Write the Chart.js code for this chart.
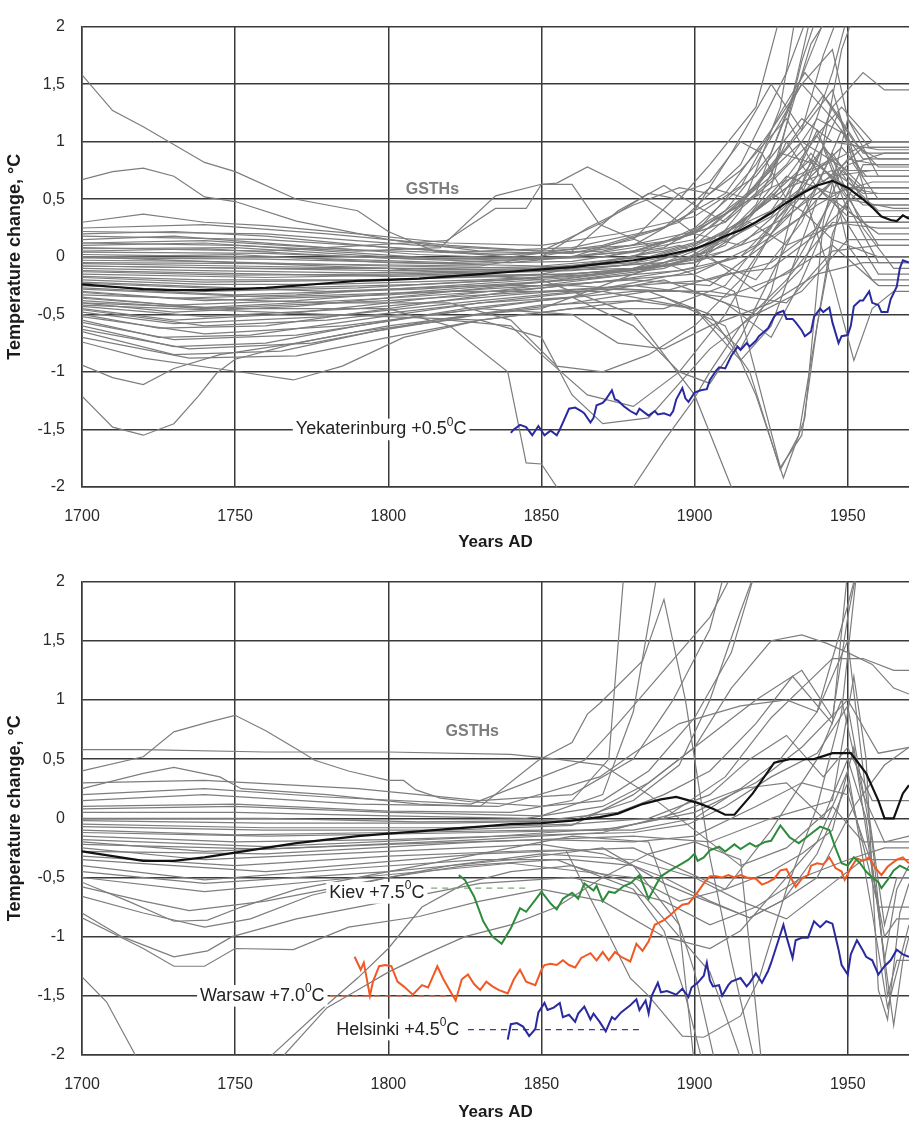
<!DOCTYPE html>
<html>
<head>
<meta charset="utf-8">
<script src="https://cdn.jsdelivr.net/npm/chart.js@4.4.1/dist/chart.umd.min.js"></script>
<style>
  body { margin: 0; background: #fff; }
  #wrap { position: relative; width: 909px; height: 1125px; overflow: hidden; background: #fff; }
  canvas { position: absolute; left: 0; }
</style>
</head>
<body>
<div id="wrap">
  <canvas id="chartTop" width="909" height="555" style="top:0"></canvas>
  <canvas id="chartBottom" width="909" height="570" style="top:555px"></canvas>
</div>
<script>
// ---- data ----

// top panel: mean of the GSTHs (black)
var topMeanYears = [1700,1710,1720,1730,1740,1750,1760,1770,1780,1790,1800,1810,1820,1830,1840,1850,1860,1870,1880,1890,1900,1905,1910,1915,1920,1925,1930,1935,1940,1945,1950,1955,1958,1961,1964,1966,1968,1970];
var topMeanTemps = [-0.24,-0.26,-0.28,-0.29,-0.29,-0.28,-0.27,-0.25,-0.23,-0.21,-0.2,-0.19,-0.17,-0.15,-0.13,-0.11,-0.09,-0.06,-0.03,0.01,0.07,0.12,0.18,0.23,0.3,0.38,0.47,0.55,0.62,0.66,0.6,0.5,0.43,0.35,0.32,0.31,0.36,0.33];

// Yekaterinburg (+0.5 C shifted)
var yekYears = [1840,1841,1843,1845,1847,1849,1851,1853,1855,1856,1857,1859,1861,1863,1864,1866,1867,1868,1870,1871,1873,1874,1875,1877,1879,1881,1882,1884,1885,1887,1888,1890,1892,1893,1894,1896,1897,1898,1900,1902,1904,1905,1907,1908,1910,1912,1914,1915,1917,1918,1920,1921,1924,1926,1927,1929,1930,1932,1933,1935,1936,1938,1939,1941,1942,1944,1945,1947,1948,1950,1951,1952,1954,1955,1957,1958,1960,1961,1963,1964,1966,1967,1968,1970];
var yekTemps = [-1.53,-1.5,-1.46,-1.48,-1.55,-1.47,-1.55,-1.51,-1.55,-1.5,-1.44,-1.32,-1.31,-1.34,-1.36,-1.44,-1.4,-1.29,-1.27,-1.24,-1.16,-1.24,-1.25,-1.3,-1.34,-1.37,-1.32,-1.36,-1.38,-1.34,-1.37,-1.36,-1.38,-1.34,-1.24,-1.14,-1.23,-1.26,-1.18,-1.16,-1.15,-1.07,-0.99,-0.96,-0.97,-0.86,-0.78,-0.81,-0.75,-0.78,-0.73,-0.69,-0.62,-0.52,-0.49,-0.47,-0.54,-0.54,-0.57,-0.64,-0.69,-0.65,-0.52,-0.45,-0.48,-0.44,-0.57,-0.75,-0.69,-0.68,-0.6,-0.43,-0.38,-0.38,-0.3,-0.4,-0.42,-0.48,-0.48,-0.37,-0.26,-0.1,-0.03,-0.05];

// top panel GSTHs, each one a list of [year, change]
var topGsth = [
  [[1700,1.58],[1710,1.27],[1720,1.13],[1740,0.82],[1750,0.74],[1770,0.5],[1790,0.4],[1800,0.22],[1815,0.05],[1840,0.0],[1870,0.1],[1895,0.3],[1915,0.8],[1930,1.6],[1937,2.1]],
  [[1700,0.67],[1710,0.74],[1720,0.77],[1730,0.7],[1740,0.52],[1750,0.48],[1770,0.31],[1800,0.15],[1830,0.05],[1860,0.08],[1890,0.25],[1910,0.55],[1925,1.1],[1935,1.5],[1945,1.2],[1955,0.85],[1970,0.85]],
  [[1700,0.3],[1720,0.37],[1740,0.3],[1760,0.27],[1790,0.2],[1820,0.12],[1850,0.1],[1875,0.2],[1900,0.35],[1920,0.7],[1935,1.2],[1945,1.0],[1960,0.93],[1970,0.93]],
  [[1700,0.2],[1730,0.22],[1760,0.18],[1800,0.08],[1835,0.02],[1865,0.05],[1895,0.15],[1915,0.45],[1930,0.95],[1942,1.4],[1952,1.0],[1960,0.78],[1970,0.78]],
  [[1700,0.15],[1730,0.18],[1770,0.1],[1810,0.02],[1850,-0.02],[1880,0.05],[1905,0.25],[1925,0.7],[1938,1.85],[1944,2.1]],
  [[1700,0.1],[1740,0.12],[1780,0.05],[1820,-0.02],[1860,0.0],[1890,0.12],[1910,0.3],[1928,0.9],[1940,0.8],[1950,0.6],[1960,0.55],[1970,0.55]],
  [[1700,0.05],[1740,0.07],[1790,0.0],[1840,-0.05],[1880,0.05],[1900,0.2],[1915,0.1],[1930,0.45],[1945,1.6],[1950,2.1]],
  [[1700,0.0],[1750,0.02],[1800,-0.05],[1850,-0.08],[1885,0.0],[1905,0.15],[1925,0.4],[1938,0.9],[1950,0.5],[1965,0.42],[1970,0.42]],
  [[1700,-0.03],[1740,-0.04],[1800,-0.08],[1850,-0.1],[1880,-0.05],[1900,0.1],[1920,0.55],[1932,1.4],[1938,2.1]],
  [[1700,-0.06],[1750,-0.08],[1800,-0.1],[1845,-0.12],[1875,-0.08],[1895,0.02],[1915,0.3],[1935,0.7],[1950,0.9],[1958,1.0],[1970,1.0]],
  [[1700,-0.1],[1740,-0.12],[1790,-0.14],[1840,-0.12],[1870,-0.05],[1895,0.1],[1920,-0.2],[1935,0.3],[1948,1.1],[1955,0.7],[1970,0.7]],
  [[1700,-0.13],[1750,-0.16],[1800,-0.15],[1850,-0.12],[1880,-0.1],[1900,0.0],[1925,0.35],[1942,0.95],[1950,0.4],[1960,0.2],[1970,0.2]],
  [[1700,-0.17],[1740,-0.2],[1790,-0.2],[1840,-0.17],[1880,-0.12],[1905,0.05],[1920,0.45],[1930,1.0],[1940,0.6],[1955,0.3],[1970,0.3]],
  [[1700,-0.2],[1740,-0.24],[1780,-0.24],[1830,-0.2],[1870,-0.15],[1900,-0.05],[1925,0.2],[1940,0.7],[1948,1.8],[1952,2.1]],
  [[1700,-0.25],[1740,-0.3],[1790,-0.27],[1840,-0.2],[1880,-0.1],[1910,0.15],[1925,0.55],[1935,0.4],[1945,0.15],[1960,0.0],[1970,0.0]],
  [[1700,-0.3],[1730,-0.36],[1770,-0.33],[1820,-0.25],[1860,-0.18],[1895,-0.05],[1915,0.25],[1930,0.7],[1945,0.55],[1958,0.65],[1970,0.65]],
  [[1700,-0.35],[1730,-0.42],[1770,-0.38],[1820,-0.28],[1860,-0.2],[1890,-0.1],[1910,0.1],[1925,0.6],[1935,1.7],[1940,2.1]],
  [[1700,-0.4],[1730,-0.48],[1770,-0.43],[1810,-0.33],[1850,-0.22],[1885,-0.1],[1905,0.0],[1920,-0.3],[1932,-0.1],[1945,0.5],[1960,-0.15],[1970,-0.15]],
  [[1700,-0.45],[1730,-0.55],[1765,-0.5],[1800,-0.4],[1840,-0.28],[1880,-0.15],[1900,0.0],[1918,0.3],[1930,0.1],[1945,0.9],[1955,0.5],[1970,0.5]],
  [[1700,-0.5],[1725,-0.62],[1760,-0.6],[1800,-0.45],[1840,-0.3],[1875,-0.2],[1900,-0.1],[1915,0.4],[1928,1.3],[1933,2.1]],
  [[1700,-0.55],[1725,-0.7],[1755,-0.68],[1790,-0.55],[1830,-0.4],[1865,-0.3],[1895,-0.15],[1915,0.0],[1935,0.35],[1950,0.8],[1962,0.9],[1970,0.9]],
  [[1700,-0.6],[1730,-0.78],[1760,-0.75],[1790,-0.6],[1825,-0.45],[1860,-0.35],[1890,-0.2],[1910,-0.4],[1925,-0.7],[1935,-0.2],[1948,0.6],[1960,0.1],[1970,0.1]],
  [[1700,-0.65],[1730,-0.85],[1765,-0.82],[1795,-0.65],[1830,-0.5],[1860,-0.4],[1885,-0.3],[1905,-0.5],[1918,-1.0],[1928,-1.85],[1934,-1.55],[1945,0.2],[1955,0.8],[1970,0.8]],
  [[1700,-0.74],[1720,-0.88],[1749,-0.99],[1769,-1.07],[1785,-0.95],[1805,-0.7],[1830,-0.55],[1860,-0.45],[1890,-0.35],[1910,-0.6],[1920,-1.2],[1929,-1.92],[1936,-1.4],[1942,0.3],[1950,1.2],[1960,0.7],[1970,0.7]],
  [[1700,-0.94],[1710,-1.05],[1720,-1.11],[1730,-0.97],[1745,-0.85],[1770,-0.75],[1800,-0.6],[1830,-0.5],[1850,-0.45],[1865,-0.3],[1880,-0.15],[1900,0.05],[1920,0.4],[1938,0.85],[1955,0.45],[1970,0.45]],
  [[1700,-1.21],[1710,-1.48],[1720,-1.55],[1730,-1.45],[1738,-1.21],[1744,-1.01],[1750,-0.89],[1770,-0.75],[1790,-0.65],[1820,-0.55],[1840,-0.6],[1850,-0.85],[1865,-1.2],[1880,-1.3],[1895,-1.0],[1910,-0.5],[1925,0.2],[1940,0.6],[1950,0.35],[1970,0.35]],
  [[1700,0.12],[1750,0.1],[1790,0.05],[1817,0.08],[1835,0.53],[1850,0.63],[1855,0.64],[1865,0.78],[1875,0.65],[1890,0.4],[1900,0.2],[1915,0.5],[1935,1.0],[1950,0.75],[1970,0.75]],
  [[1700,0.08],[1760,0.05],[1819,0.14],[1835,0.42],[1845,0.42],[1850,0.63],[1860,0.63],[1869,0.28],[1885,0.1],[1900,0.2],[1920,0.8],[1935,1.5],[1945,1.8],[1950,1.2],[1957,0.95],[1970,0.95]],
  [[1700,-0.4],[1750,-0.45],[1800,-0.45],[1820,-0.6],[1839,-1.0],[1845,-1.79],[1850,-1.8],[1855,-2.0],[1858,-2.3]],
  [[1830,-3.5],[1880,-2.0],[1890,-1.6],[1899,-1.27],[1905,-1.0],[1915,-0.6],[1930,-0.2],[1945,0.3],[1960,0.25],[1970,0.25]],
  [[1700,0.0],[1800,-0.1],[1850,-0.2],[1880,-0.5],[1900,-1.2],[1912,-2.0],[1920,-2.8]],
  [[1700,-0.08],[1800,-0.12],[1860,-0.1],[1890,-0.05],[1913,-0.3],[1928,-1.83],[1935,-1.55],[1940,-0.6],[1947,0.4],[1955,0.6],[1970,0.6]],
  [[1700,0.22],[1760,0.2],[1810,0.1],[1850,0.05],[1880,0.1],[1900,0.4],[1912,0.9],[1925,1.5],[1935,1.1],[1942,1.75],[1947,2.1]],
  [[1700,0.02],[1760,0.0],[1820,-0.05],[1860,0.0],[1890,0.25],[1905,0.6],[1918,0.5],[1930,0.8],[1940,1.2],[1950,1.05],[1957,0.45],[1970,0.45]],
  [[1700,-0.22],[1780,-0.3],[1830,-0.25],[1860,-0.25],[1890,-0.3],[1910,-0.15],[1925,-0.1],[1940,0.2],[1950,0.45],[1960,-0.05],[1970,-0.05]],
  [[1700,-0.28],[1760,-0.35],[1820,-0.3],[1870,-0.3],[1900,-0.45],[1915,-0.8],[1925,-0.3],[1933,0.5],[1945,1.3],[1955,1.6],[1962,1.45],[1970,1.45]],
  [[1700,0.18],[1760,0.15],[1820,0.05],[1860,0.03],[1880,0.15],[1895,0.55],[1905,0.65],[1915,1.0],[1922,0.9],[1930,0.5],[1945,0.7],[1958,0.75],[1970,0.75]],
  [[1700,-0.46],[1740,-0.6],[1780,-0.55],[1830,-0.4],[1860,-0.35],[1880,-0.6],[1895,-1.0],[1905,-1.1],[1915,-0.7],[1930,0.1],[1948,0.3],[1970,0.3]],
  [[1700,-0.52],[1740,-0.67],[1785,-0.6],[1830,-0.45],[1860,-0.5],[1875,-0.75],[1890,-0.8],[1905,-0.6],[1925,-0.4],[1940,-0.15],[1955,-0.05],[1970,-0.05]],
  [[1700,0.12],[1740,0.14],[1790,0.06],[1840,0.02],[1870,0.05],[1900,0.22],[1925,0.6],[1945,0.85],[1955,0.25],[1965,-0.1],[1970,-0.1]],
  [[1700,-0.38],[1740,-0.45],[1800,-0.38],[1850,-0.3],[1880,-0.25],[1910,-0.35],[1930,-0.15],[1945,0.1],[1960,-0.25],[1970,-0.25]],
  [[1700,-0.12],[1800,-0.17],[1860,-0.15],[1900,-0.05],[1920,0.3],[1935,0.6],[1945,-0.2],[1952,-0.9],[1958,-0.45],[1965,-0.3],[1970,-0.3]],
  [[1700,-0.33],[1780,-0.4],[1820,-0.4],[1840,-0.55],[1855,-0.95],[1870,-1.0],[1885,-0.85],[1900,-0.6],[1915,-0.2],[1930,0.4],[1942,0.95],[1955,0.6],[1970,0.6]],
  [[1700,-0.42],[1780,-0.5],[1830,-0.55],[1850,-0.7],[1860,-1.2],[1870,-1.45],[1885,-1.4],[1895,-1.1],[1905,-0.8],[1920,-0.5],[1935,-0.3],[1950,0.15],[1970,0.15]],
  [[1700,0.25],[1740,0.28],[1780,0.2],[1820,0.1],[1850,0.05],[1870,0.3],[1885,0.55],[1895,0.5],[1905,0.8],[1920,1.3],[1928,2.1]],
  [[1700,0.07],[1750,0.08],[1800,0.0],[1840,-0.03],[1870,0.0],[1900,0.15],[1920,0.6],[1935,1.1],[1945,1.45],[1950,1.0],[1960,0.85],[1970,0.85]],
  [[1700,-0.01],[1760,-0.02],[1820,-0.06],[1860,-0.04],[1890,0.08],[1910,0.4],[1925,0.9],[1940,1.9],[1943,2.1]],
  [[1700,-0.08],[1760,-0.1],[1820,-0.1],[1860,-0.08],[1890,0.05],[1910,0.2],[1930,0.6],[1945,0.75],[1955,0.55],[1970,0.55]],
  [[1700,-0.15],[1760,-0.18],[1820,-0.15],[1860,-0.12],[1885,-0.05],[1905,0.1],[1925,0.5],[1940,1.05],[1950,0.65],[1960,0.4],[1970,0.4]],
  [[1700,-0.18],[1740,-0.22],[1800,-0.2],[1850,-0.15],[1880,0.0],[1900,0.25],[1915,0.6],[1928,1.25],[1936,1.6],[1945,1.3],[1955,0.9],[1970,0.9]],
  [[1700,-0.23],[1750,-0.28],[1810,-0.24],[1860,-0.17],[1890,-0.08],[1910,0.05],[1930,0.35],[1945,0.65],[1950,0.1],[1958,-0.2],[1970,-0.2]],
  [[1700,-0.27],[1750,-0.33],[1810,-0.28],[1860,-0.2],[1895,-0.12],[1915,0.0],[1935,0.55],[1947,1.25],[1952,0.8],[1960,0.5],[1970,0.5]],
  [[1700,-0.31],[1740,-0.38],[1800,-0.33],[1850,-0.25],[1880,-0.2],[1905,-0.25],[1925,0.15],[1940,0.45],[1950,0.6],[1970,0.6]],
  [[1700,-0.36],[1740,-0.44],[1800,-0.36],[1850,-0.27],[1875,-0.2],[1900,-0.15],[1920,0.1],[1938,0.7],[1948,0.95],[1956,0.7],[1970,0.7]],
  [[1700,-0.43],[1740,-0.52],[1790,-0.45],[1840,-0.33],[1880,-0.25],[1905,-0.2],[1925,-0.05],[1940,0.25],[1950,0.3],[1970,0.3]],
  [[1700,-0.48],[1730,-0.58],[1780,-0.52],[1830,-0.38],[1870,-0.28],[1900,-0.3],[1920,-0.5],[1935,-0.1],[1948,0.75],[1956,0.55],[1970,0.55]],
  [[1700,-0.57],[1730,-0.72],[1770,-0.68],[1810,-0.52],[1850,-0.38],[1880,-0.3],[1905,-0.3],[1930,-0.4],[1945,0.05],[1960,0.1],[1970,0.1]],
  [[1700,-0.63],[1735,-0.8],[1775,-0.75],[1815,-0.55],[1850,-0.42],[1880,-0.38],[1900,-0.45],[1915,-0.9],[1925,-0.6],[1940,0.5],[1950,0.85],[1960,0.8],[1970,0.8]],
  [[1700,-0.7],[1735,-0.88],[1770,-0.86],[1800,-0.7],[1830,-0.55],[1860,-0.45],[1890,-0.45],[1910,-0.25],[1925,0.25],[1940,1.1],[1948,0.6],[1970,0.6]],
  [[1700,0.04],[1760,0.03],[1810,-0.02],[1850,0.0],[1865,0.25],[1880,0.45],[1895,0.6],[1905,0.55],[1915,0.75],[1930,1.2],[1942,0.65],[1955,0.95],[1970,0.95]],
  [[1700,-0.05],[1760,-0.06],[1830,-0.08],[1860,0.05],[1875,0.4],[1890,0.62],[1900,0.45],[1910,0.3],[1925,0.65],[1938,1.0],[1948,1.3],[1958,1.0],[1970,1.0]]
];

// bottom panel: mean of the GSTHs (black)
var botMeanYears = [1700,1710,1720,1730,1740,1750,1760,1770,1780,1790,1800,1810,1820,1830,1840,1850,1860,1869,1875,1883,1889,1894,1901,1906,1910,1913,1919,1926,1931,1939,1945,1951,1956,1960,1962,1965,1968,1970];
var botMeanTemps = [-0.28,-0.32,-0.36,-0.36,-0.33,-0.29,-0.25,-0.21,-0.18,-0.15,-0.13,-0.11,-0.09,-0.07,-0.05,-0.04,-0.02,0.01,0.04,0.12,0.16,0.18,0.13,0.08,0.03,0.03,0.21,0.47,0.5,0.5,0.55,0.55,0.38,0.15,0.0,0.0,0.21,0.28];

// Kiev (+7.5 C shifted)
var kievYears = [1823,1825,1828,1831,1834,1837,1840,1843,1845,1848,1850,1853,1855,1857,1860,1862,1864,1867,1868,1870,1872,1874,1877,1879,1882,1885,1887,1889,1892,1894,1896,1898,1900,1901,1903,1905,1908,1910,1913,1915,1918,1920,1923,1925,1928,1931,1934,1936,1938,1941,1944,1946,1948,1950,1952,1954,1956,1958,1960,1961,1963,1965,1967,1970];
var kievTemps = [-0.48,-0.52,-0.66,-0.87,-1.0,-1.06,-0.93,-0.76,-0.79,-0.69,-0.62,-0.72,-0.77,-0.68,-0.63,-0.68,-0.55,-0.61,-0.57,-0.7,-0.62,-0.63,-0.57,-0.55,-0.48,-0.68,-0.58,-0.49,-0.44,-0.41,-0.38,-0.35,-0.3,-0.36,-0.33,-0.27,-0.24,-0.28,-0.22,-0.26,-0.21,-0.24,-0.2,-0.19,-0.06,-0.16,-0.21,-0.17,-0.13,-0.07,-0.1,-0.25,-0.38,-0.4,-0.33,-0.38,-0.45,-0.5,-0.54,-0.59,-0.52,-0.44,-0.4,-0.44];

// Warsaw (+7.0 C shifted)
var warsawYears = [1789,1791,1792,1794,1795,1797,1799,1801,1803,1805,1808,1811,1813,1816,1818,1820,1822,1824,1826,1828,1830,1832,1834,1836,1839,1841,1843,1845,1848,1850,1851,1853,1855,1857,1859,1861,1863,1866,1868,1870,1872,1874,1876,1879,1881,1883,1885,1887,1890,1892,1894,1896,1898,1900,1903,1905,1907,1909,1911,1913,1915,1917,1920,1922,1924,1926,1928,1930,1931,1933,1935,1937,1938,1940,1942,1944,1946,1948,1949,1951,1953,1955,1957,1959,1961,1963,1966,1968,1970];
var warsawTemps = [-1.17,-1.28,-1.22,-1.5,-1.38,-1.25,-1.24,-1.25,-1.38,-1.42,-1.49,-1.41,-1.43,-1.25,-1.36,-1.45,-1.54,-1.36,-1.32,-1.4,-1.45,-1.38,-1.42,-1.45,-1.48,-1.36,-1.28,-1.38,-1.41,-1.28,-1.24,-1.23,-1.24,-1.2,-1.24,-1.26,-1.18,-1.14,-1.2,-1.13,-1.2,-1.13,-1.17,-1.21,-1.06,-1.12,-1.04,-0.9,-0.86,-0.82,-0.77,-0.73,-0.72,-0.66,-0.55,-0.49,-0.49,-0.5,-0.48,-0.5,-0.48,-0.5,-0.51,-0.56,-0.54,-0.51,-0.44,-0.43,-0.48,-0.58,-0.51,-0.48,-0.4,-0.38,-0.39,-0.33,-0.42,-0.45,-0.52,-0.42,-0.34,-0.36,-0.33,-0.42,-0.48,-0.41,-0.35,-0.33,-0.38];

// Helsinki (+4.5 C shifted)
var helsinkiYears = [1839,1840,1842,1844,1846,1848,1849,1851,1852,1854,1856,1857,1859,1861,1862,1864,1866,1867,1869,1871,1873,1874,1876,1879,1881,1882,1884,1885,1886,1888,1889,1891,1894,1896,1898,1899,1901,1903,1904,1905,1906,1908,1909,1911,1912,1915,1917,1918,1920,1922,1924,1925,1927,1929,1930,1932,1933,1935,1937,1939,1941,1943,1945,1947,1948,1950,1951,1953,1955,1956,1958,1960,1962,1964,1966,1968,1970];
var helsinkiTemps = [-1.87,-1.74,-1.73,-1.76,-1.84,-1.78,-1.64,-1.56,-1.62,-1.6,-1.56,-1.68,-1.66,-1.72,-1.65,-1.59,-1.7,-1.65,-1.72,-1.8,-1.68,-1.7,-1.64,-1.58,-1.53,-1.62,-1.54,-1.65,-1.5,-1.39,-1.47,-1.46,-1.49,-1.44,-1.51,-1.43,-1.39,-1.33,-1.22,-1.37,-1.42,-1.41,-1.5,-1.41,-1.38,-1.35,-1.42,-1.39,-1.31,-1.39,-1.29,-1.22,-1.06,-0.9,-1.0,-1.18,-1.03,-1.01,-1.01,-0.87,-0.92,-0.87,-0.89,-1.11,-1.24,-1.32,-1.15,-1.03,-1.12,-1.17,-1.2,-1.32,-1.25,-1.2,-1.11,-1.15,-1.17];

// dashed reference levels next to the station labels
var kievRef = [[1814,-0.59],[1846,-0.59]];
var warsawRef = [[1781,-1.5],[1822,-1.5]];
var helsinkiRef = [[1826,-1.785],[1883,-1.785]];

// bottom panel GSTHs
var bottomGsth = [
  [[1700,0.58],[1720,0.58],[1760,0.56],[1800,0.56],[1840,0.54],[1855,0.5],[1870,0.45],[1885,0.2],[1900,-0.1],[1915,-0.4],[1930,-0.25],[1945,0.1],[1955,-0.2],[1970,-0.2]],
  [[1700,0.4],[1720,0.52],[1730,0.73],[1741,0.81],[1750,0.87],[1760,0.74],[1771,0.57],[1776,0.49],[1787,0.4],[1800,0.32],[1805,0.32],[1809,0.24],[1817,0.17],[1827,0.14],[1850,0.1],[1870,0.15],[1885,0.4],[1900,0.85],[1912,1.4],[1920,2.1]],
  [[1700,0.25],[1720,0.38],[1730,0.43],[1745,0.35],[1752,0.25],[1780,0.2],[1810,0.12],[1830,0.1],[1849,0.49],[1860,0.64],[1865,0.88],[1869,0.97],[1883,1.33],[1890,1.85],[1897,1.0],[1905,-0.33],[1912,-1.2],[1920,-2.1]],
  [[1700,0.2],[1740,0.25],[1780,0.18],[1827,0.12],[1850,0.35],[1864,0.49],[1875,0.8],[1885,1.1],[1895,1.4],[1905,1.7],[1913,2.1]],
  [[1700,0.15],[1740,0.2],[1790,0.12],[1836,0.1],[1869,0.35],[1880,0.55],[1895,0.8],[1915,0.95],[1930,1.0],[1940,0.9],[1950,1.8],[1953,2.1]],
  [[1700,0.1],[1750,0.12],[1800,0.06],[1840,0.05],[1860,0.15],[1872,0.5],[1877,2.1]],
  [[1700,0.05],[1750,0.05],[1800,0.02],[1845,0.0],[1870,0.1],[1885,0.3],[1900,0.6],[1912,1.1],[1925,1.5],[1935,1.55],[1943,1.48],[1950,1.4],[1958,1.3],[1965,1.1],[1970,1.05]],
  [[1700,0.0],[1760,0.0],[1810,-0.03],[1850,-0.02],[1875,0.05],[1890,0.2],[1905,0.4],[1920,0.8],[1932,1.2],[1945,0.8],[1950,2.1]],
  [[1700,-0.05],[1760,-0.08],[1820,-0.08],[1860,-0.05],[1885,0.0],[1905,0.2],[1918,0.5],[1930,0.7],[1942,0.35],[1950,0.6],[1958,0.15],[1970,0.15]],
  [[1700,-0.1],[1750,-0.14],[1800,-0.12],[1850,-0.1],[1880,-0.1],[1900,0.0],[1915,0.25],[1928,0.5],[1940,0.9],[1950,1.5],[1956,0.2],[1962,-0.9],[1966,-0.5],[1970,-0.5]],
  [[1700,-0.15],[1750,-0.2],[1800,-0.18],[1850,-0.14],[1880,-0.12],[1898,-0.05],[1910,0.1],[1925,0.35],[1940,0.55],[1950,0.95],[1958,-0.2],[1963,-1.5],[1966,-1.2],[1970,-1.2]],
  [[1700,-0.2],[1740,-0.28],[1800,-0.22],[1850,-0.18],[1880,-0.2],[1900,-0.15],[1920,0.1],[1935,0.3],[1950,0.2],[1958,-0.4],[1965,-1.75],[1968,-1.2],[1970,-1.0]],
  [[1700,-0.25],[1740,-0.35],[1800,-0.28],[1850,-0.22],[1870,-0.3],[1890,-0.5],[1905,-0.7],[1918,-0.84],[1929,-0.69],[1940,-0.3],[1950,0.3],[1960,-0.75],[1970,-0.75]],
  [[1700,-0.32],[1750,-0.4],[1800,-0.32],[1850,-0.27],[1858,-0.27],[1869,-0.83],[1879,-1.35],[1885,-1.5],[1896,-1.84],[1903,-1.85],[1915,-1.67],[1921,-1.36],[1930,-0.6],[1940,0.1],[1948,0.9],[1953,2.1]],
  [[1700,-0.4],[1740,-0.52],[1790,-0.42],[1830,-0.35],[1860,-0.35],[1880,-0.4],[1895,-0.9],[1900,-1.3],[1907,-2.1]],
  [[1700,-0.45],[1740,-0.55],[1800,-0.45],[1840,-0.35],[1870,-0.25],[1890,-0.55],[1900,-0.66],[1918,-0.84],[1929,-0.69],[1940,-0.5],[1952,0.1],[1962,0.45],[1970,0.6]],
  [[1700,-0.54],[1715,-0.7],[1730,-0.87],[1741,-0.86],[1752,-0.75],[1770,-0.6],[1800,-0.45],[1830,-0.3],[1860,-0.15],[1885,-0.2],[1895,-0.9],[1900,-2.1]],
  [[1700,-0.58],[1720,-0.7],[1735,-0.78],[1760,-0.7],[1790,-0.55],[1820,-0.4],[1850,-0.3],[1880,-0.35],[1900,-0.5],[1915,-0.7],[1930,-0.85],[1945,-0.55],[1955,-0.35],[1970,-0.35]],
  [[1700,-0.66],[1720,-0.8],[1740,-0.92],[1755,-0.85],[1775,-0.65],[1800,-0.5],[1825,-0.4],[1855,-0.35],[1880,-0.6],[1890,-0.95],[1897,-1.5],[1903,-2.1]],
  [[1700,-0.8],[1713,-1.0],[1730,-1.17],[1741,-1.12],[1749,-1.0],[1770,-0.85],[1800,-0.7],[1830,-0.55],[1860,-0.5],[1890,-0.7],[1905,-0.9],[1920,-0.75],[1935,-0.5],[1950,-0.35],[1962,-0.25],[1970,-0.25]],
  [[1700,-0.84],[1720,-1.1],[1730,-1.25],[1740,-1.25],[1750,-1.1],[1769,-1.11],[1787,-0.92],[1810,-0.83],[1830,-0.7],[1850,-0.6],[1870,-0.7],[1890,-1.0],[1905,-1.1],[1915,-0.95],[1925,-0.65],[1940,-0.2],[1950,0.4],[1958,-0.8],[1963,-1.6],[1968,-1.1],[1970,-0.9]],
  [[1700,-1.34],[1708,-1.55],[1717,-1.98],[1720,-2.2]],
  [[1760,-2.1],[1762,-2.0],[1778,-1.62],[1790,-1.35],[1800,-1.1],[1811,-0.75],[1825,-0.55],[1840,-0.45],[1860,-0.4],[1880,-0.55],[1895,-1.0],[1905,-1.3],[1912,-1.8],[1916,-2.1]],
  [[1763,-2.1],[1766,-2.0],[1780,-1.6],[1790,-1.45],[1800,-1.3],[1812,-1.15],[1825,-1.0],[1840,-0.9],[1855,-0.75],[1870,-0.5],[1885,-0.3],[1900,-0.2],[1915,-0.35],[1922,-2.1]],
  [[1700,0.08],[1750,0.1],[1800,0.05],[1850,0.02],[1870,0.2],[1880,0.9],[1888,2.1]],
  [[1700,-0.02],[1760,-0.04],[1820,-0.04],[1860,-0.02],[1880,0.15],[1895,0.45],[1905,1.0],[1915,1.75],[1920,2.1]],
  [[1700,-0.12],[1760,-0.15],[1830,-0.12],[1870,-0.1],[1890,0.0],[1910,0.35],[1925,0.85],[1935,1.1],[1945,1.35],[1955,1.35],[1965,1.25],[1970,1.25]],
  [[1700,-0.18],[1760,-0.24],[1830,-0.16],[1875,-0.08],[1900,0.05],[1920,0.3],[1935,0.6],[1950,1.0],[1960,0.55],[1970,0.6]],
  [[1700,-0.28],[1760,-0.3],[1830,-0.2],[1880,-0.15],[1905,-0.2],[1925,0.0],[1945,0.15],[1952,1.2],[1956,0.5],[1960,-1.45],[1963,-1.7],[1967,-0.8],[1970,-0.55]],
  [[1700,-0.35],[1760,-0.45],[1830,-0.3],[1880,-0.25],[1910,-0.6],[1925,-0.45],[1935,-0.3],[1945,-0.1],[1952,0.6],[1958,-0.45],[1962,-1.0],[1966,-0.85],[1970,-0.85]],
  [[1700,0.3],[1740,0.32],[1790,0.25],[1830,0.15],[1860,0.2],[1880,0.5],[1893,1.0],[1905,1.6],[1910,2.1]],
  [[1700,-0.07],[1760,-0.1],[1820,-0.1],[1860,-0.06],[1880,0.2],[1900,0.6],[1920,1.0],[1935,1.25],[1945,0.85],[1950,1.7],[1953,2.1]],
  [[1700,-0.22],[1760,-0.26],[1830,-0.18],[1870,-0.12],[1895,0.05],[1915,0.25],[1930,0.3],[1942,0.0],[1950,0.5],[1956,0.0],[1962,-1.2],[1966,-0.6],[1970,-0.4]],
  [[1700,-0.5],[1740,-0.62],[1790,-0.5],[1840,-0.38],[1880,-0.5],[1895,-0.7],[1910,-0.6],[1925,-0.1],[1940,0.5],[1948,1.0],[1955,0.2],[1962,-0.2],[1970,-0.15]]
];

var yTicks = [-2,-1.5,-1,-0.5,0,0.5,1,1.5,2];
var xTicks = [1700,1750,1800,1850,1900,1950];

// ---- helpers ----
var FONT = "'Liberation Sans', Arial, sans-serif";

function pairs(years, temps) {
  return years.map(function (y, i) { return { x: y, y: temps[i] }; });
}
function pts(list) {
  return list.map(function (p) { return { x: p[0], y: p[1] }; });
}
function graySets(lines) {
  return lines.map(function (l) {
    return { data: pts(l), borderColor: '#7d7d7d', borderWidth: 1.2, order: 5 };
  });
}

// station labels with a superscript zero, drawn at data positions
var labelPlugin = {
  id: 'labels',
  afterDatasetsDraw: function (chart, args, opts) {
    var ctx = chart.ctx, xs = chart.scales.x, ys = chart.scales.y;
    (opts.items || []).forEach(function (it) {
      var size = it.size || 15;
      var main = (it.bold ? 'bold ' : '') + size + 'px ' + FONT;
      var small = (it.bold ? 'bold ' : '') + Math.round(size * 0.65) + 'px ' + FONT;
      ctx.save();
      ctx.font = main;
      var w1 = ctx.measureText(it.text).width;
      var w3 = it.tail ? ctx.measureText(it.tail).width : 0;
      ctx.font = small;
      var w2 = it.sup ? ctx.measureText(it.sup).width : 0;
      var total = w1 + w2 + w3;
      var px = xs.getPixelForValue(it.year);
      var py = ys.getPixelForValue(it.value);
      var x0 = it.align === 'right' ? px - total : px - total / 2;
      if (it.bg) {
        ctx.fillStyle = '#fff';
        ctx.fillRect(x0 - 3, py - size * 0.6, total + 6, size * 1.2);
      }
      ctx.fillStyle = it.color || '#222';
      ctx.textBaseline = 'middle';
      ctx.textAlign = 'left';
      ctx.font = main;
      ctx.fillText(it.text, x0, py);
      if (it.sup) {
        ctx.font = small;
        ctx.fillText(it.sup, x0 + w1, py - size * 0.38);
      }
      if (it.tail) {
        ctx.font = main;
        ctx.fillText(it.tail, x0 + w1 + w2, py);
      }
      ctx.restore();
    });
  }
};

function makeOptions(axisHeight, padTop, titlePad, items) {
  return {
    responsive: false,
    animation: false,
    layout: { padding: { top: padTop, left: 0, right: 0, bottom: 0 } },
    elements: { point: { radius: 0 }, line: { tension: 0 } },
    plugins: {
      legend: { display: false },
      tooltip: { enabled: false },
      labels: { items: items }
    },
    scales: {
      x: {
        type: 'linear',
        min: 1700,
        max: 1970,
        afterBuildTicks: function (s) {
          s.ticks = xTicks.map(function (v) { return { value: v }; });
        },
        afterFit: function (s) { s.height = axisHeight; },
        grid: { color: '#3a3a3a', lineWidth: 1.5, drawTicks: false },
        border: { color: '#3a3a3a', width: 1.5 },
        ticks: {
          color: '#2a2a2a', padding: 20, font: { family: FONT, size: 16 },
          callback: function (v) { return String(v); }
        },
        title: {
          display: true, text: 'Years AD', color: '#1a1a1a',
          font: { family: FONT, size: 17, weight: 'bold' },
          padding: { top: 0, bottom: titlePad }
        }
      },
      y: {
        min: -2,
        max: 2,
        afterBuildTicks: function (s) {
          s.ticks = yTicks.map(function (v) { return { value: v }; });
        },
        afterFit: function (s) { s.width = 82; },
        grid: { color: '#3a3a3a', lineWidth: 1.5, drawTicks: false },
        border: { color: '#3a3a3a', width: 1.5 },
        ticks: {
          color: '#2a2a2a', padding: 17, font: { family: FONT, size: 16 },
          callback: function (v) { return String(v).replace('.', ','); }
        },
        title: {
          display: true, text: 'Temperature change, °C', color: '#1a1a1a',
          font: { family: FONT, size: 18, weight: 'bold' },
          padding: { top: 4, bottom: 0 }
        }
      }
    }
  };
}

// ---- top chart ----
var topSets = [
  { data: pairs(topMeanYears, topMeanTemps), borderColor: '#111', borderWidth: 2.2, order: 1 },
  { data: pairs(yekYears, yekTemps), borderColor: '#2a2a9e', borderWidth: 2, order: 0 }
].concat(graySets(topGsth));

new Chart(document.getElementById('chartTop').getContext('2d'), {
  type: 'line',
  data: { datasets: topSets },
  options: makeOptions(68, 12, 2, [
    { text: 'GSTHs', year: 1814.4, value: 0.585, color: '#7d7d7d', bold: true, size: 16 },
    { text: 'Yekaterinburg +0.5', sup: '0', tail: 'C', year: 1825.5, value: -1.5, align: 'right', bg: true, size: 18 }
  ]),
  plugins: [labelPlugin]
});

// ---- bottom chart ----
var bottomSets = [
  { data: pairs(botMeanYears, botMeanTemps), borderColor: '#111', borderWidth: 2.2, order: 1 },
  { data: pairs(kievYears, kievTemps), borderColor: '#2e8b3c', borderWidth: 2, order: 0 },
  { data: pairs(warsawYears, warsawTemps), borderColor: '#ef5a24', borderWidth: 2, order: 0 },
  { data: pairs(helsinkiYears, helsinkiTemps), borderColor: '#2a2a9e', borderWidth: 2, order: 0 },
  { data: pts(kievRef), borderColor: '#7fa77f', borderWidth: 1.3, borderDash: [6, 5], order: 2 },
  { data: pts(warsawRef), borderColor: '#ef5a24', borderWidth: 1.3, borderDash: [6, 5], order: 2 },
  { data: pts(helsinkiRef), borderColor: '#3a3aa8', borderWidth: 1.3, borderDash: [6, 5], order: 2 }
].concat(graySets(bottomGsth));

new Chart(document.getElementById('chartBottom').getContext('2d'), {
  type: 'line',
  data: { datasets: bottomSets },
  options: makeOptions(70, 25, 2, [
    { text: 'GSTHs', year: 1827.4, value: 0.73, color: '#7d7d7d', bold: true, size: 16 },
    { text: 'Kiev +7.5', sup: '0', tail: 'C', year: 1811.8, value: -0.63, align: 'right', bg: true, size: 18 },
    { text: 'Warsaw +7.0', sup: '0', tail: 'C', year: 1779.2, value: -1.5, align: 'right', bg: true, size: 18 },
    { text: 'Helsinki +4.5', sup: '0', tail: 'C', year: 1823.2, value: -1.785, align: 'right', bg: true, size: 18 }
  ]),
  plugins: [labelPlugin]
});
</script>
</body>
</html>
